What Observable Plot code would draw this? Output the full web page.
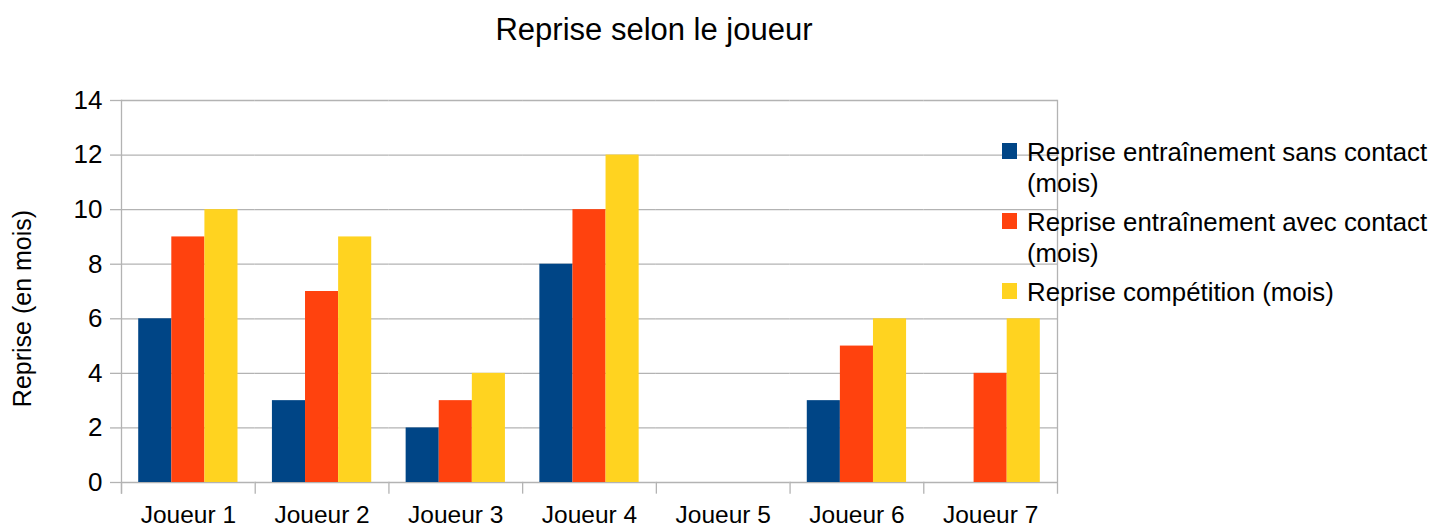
<!DOCTYPE html>
<html>
<head>
<meta charset="utf-8">
<script src="https://cdn.jsdelivr.net/npm/d3@7"></script>
<script src="https://cdn.jsdelivr.net/npm/@observablehq/plot@0.6"></script>
<style>
  html, body { margin: 0; padding: 0; background: #fff; }
  #wrap { position: relative; width: 1433px; height: 528px; font-family: "Liberation Sans", Arial, sans-serif; color: #000; overflow: hidden; }
  #title { position: relative; height: 60px; }
  #title span { position: absolute; left: 0; width: 1308px; text-align: center; top: 14px; font-size: 31px; line-height: 31px; white-space: nowrap; }
  #legend { position: absolute; left: 1002px; top: 137px; }
  .row { position: relative; padding-left: 25px; margin-bottom: 8px; font-size: 25.8px; line-height: 31px; width: 408px; }
  .sw { position: absolute; left: 0; top: 6px; width: 15px; height: 16px; }
  svg { display: block; }
</style>
</head>
<body>
<div id="wrap">
  <div id="title"><span>Reprise selon le joueur</span></div>
  <div id="chart"></div>
  <div id="legend"></div>
</div>
<script>
const players = ["Joueur 1", "Joueur 2", "Joueur 3", "Joueur 4", "Joueur 5", "Joueur 6", "Joueur 7"];
const series = [
  "Reprise entraînement sans contact (mois)",
  "Reprise entraînement avec contact (mois)",
  "Reprise compétition (mois)"
];
const sansContact = [6, 3, 2, 8, 0, 3, 0];
const avecContact = [9, 7, 3, 10, 0, 5, 4];
const competition = [10, 9, 4, 12, 0, 6, 6];
const colors = ["#004586", "#ff420e", "#ffd320"];
const yTicks = [0, 2, 4, 6, 8, 10, 12, 14];
const yLabel = "Reprise (en mois)";

const values = [sansContact, avecContact, competition];
const data = players.flatMap((p, i) => series.map((s, j) => ({player: p, series: s, value: values[j][i]})));

const gray = "#b3b3b3";
const chart = Plot.plot({
  width: 1433,
  height: 468,
  marginTop: 40,
  marginBottom: 46,
  marginLeft: 121,
  marginRight: 376,
  style: {fontFamily: "'Liberation Sans', Arial, sans-serif", fontSize: "24.5px", color: "#000", background: "#fff", overflow: "visible"},
  fx: {domain: players, paddingInner: 0, paddingOuter: 0, round: false, label: null},
  x: {domain: series, paddingInner: 0, paddingOuter: 0.52, round: false, axis: null},
  y: {domain: [0, 14], label: null},
  color: {domain: series, range: colors},
  marks: [
    Plot.gridY(yTicks, {stroke: gray, strokeOpacity: 1, strokeWidth: 1.3}),
    Plot.frame({anchor: "left", insetTop: 382, insetBottom: -10.5, stroke: gray, strokeWidth: 1.3}),
    Plot.frame({anchor: "left", facet: "super", insetBottom: -10.5, stroke: gray, strokeWidth: 1.3}),
    Plot.frame({anchor: "right", facet: "super", insetBottom: -10.5, stroke: gray, strokeWidth: 1.3}),
    Plot.axisY(yTicks, {tickSize: 11, text: null, stroke: gray, strokeOpacity: 1, strokeWidth: 1.3}),
    Plot.axisY(yTicks, {tickSize: 0, tickPadding: 19, fontSize: 26, label: null}),
    Plot.barY(data, {fx: "player", x: "series", y: "value", fill: "series"}),
    Plot.axisFx({anchor: "bottom", tickSize: 0, tickPadding: 23.5, fontSize: 24.5, label: null}),
    Plot.text([yLabel], {facet: "super", frameAnchor: "left", textAnchor: "middle", rotate: -90, dx: -99, dy: 17, fontSize: 25, fill: "#000"})
  ]
});
document.getElementById("chart").appendChild(chart);

const legend = document.getElementById("legend");
series.forEach((s, j) => {
  const row = document.createElement("div");
  row.className = "row";
  const sw = document.createElement("div");
  sw.className = "sw";
  sw.style.background = colors[j];
  row.appendChild(sw);
  row.appendChild(document.createTextNode(s));
  legend.appendChild(row);
});
</script>
</body>
</html>
